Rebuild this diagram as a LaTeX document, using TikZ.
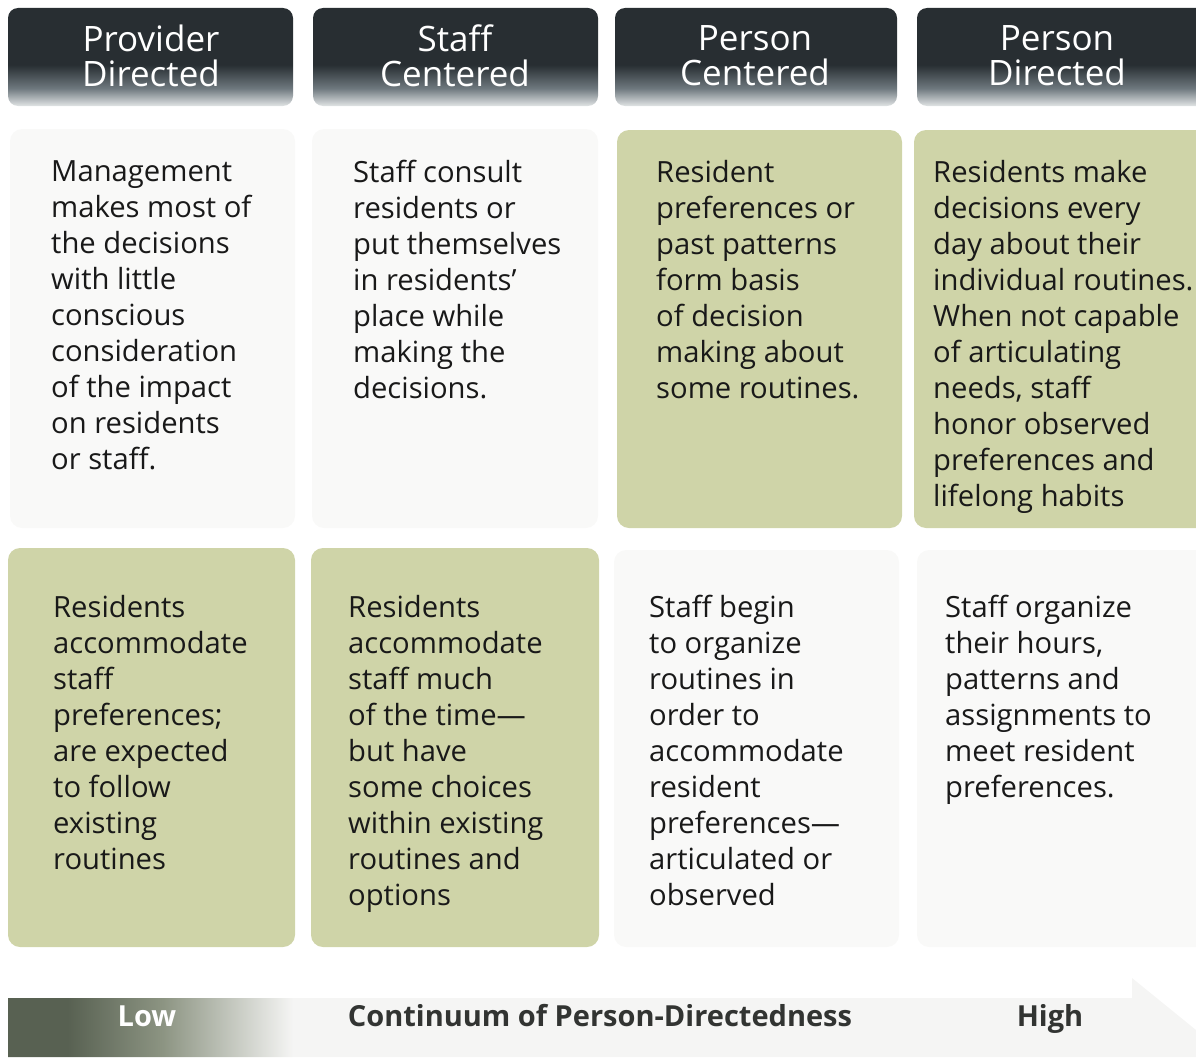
\documentclass[tikz,border=0pt]{standalone}
\usepackage{fontspec}
\setmainfont{Open Sans}
\begin{document}
\definecolor{cellgreen}{RGB}{207,212,168}
\definecolor{cellwhite}{RGB}{249,249,248}
\definecolor{hdrdark}{RGB}{40,46,50}
\definecolor{hdrmid}{RGB}{110,120,126}
\definecolor{hdrlight}{RGB}{225,228,229}
\definecolor{bardark}{RGB}{88,97,82}
\definecolor{barmid}{RGB}{140,148,130}
\definecolor{barlight}{RGB}{245,245,244}
\definecolor{txtdark}{RGB}{25,25,25}
\definecolor{bartxt}{RGB}{50,52,50}
\pgfdeclareverticalshading{hdrshade}{100bp}{color(0bp)=(hdrlight); color(25bp)=(hdrlight); color(34bp)=(hdrmid); color(46bp)=(hdrdark); color(75bp)=(hdrdark); color(100bp)=(hdrdark)}
\pgfdeclarehorizontalshading{barshade}{100bp}{color(0bp)=(bardark); color(25bp)=(bardark); color(27.5bp)=(bardark); color(31.5bp)=(barmid); color(37bp)=(barlight); color(75bp)=(barlight); color(100bp)=(barlight)}
\begin{tikzpicture}[x=1pt,y=-1pt,
  hdr/.style={rounded corners=10pt, shading=hdrshade, draw=none},
  hdrtxt/.style={text=white, align=center, inner sep=0pt, anchor=north,
    font=\fontsize{35}{35}\selectfont, execute at begin node=\strut},
  cellg/.style={rounded corners=12pt, fill=cellgreen, draw=none},
  cellw/.style={rounded corners=12pt, fill=cellwhite, draw=none},
  txt/.style={text=txtdark, align=left, inner sep=0pt, anchor=north west,
    font=\fontsize{29.2}{36}\selectfont, execute at begin node=\strut},
  bartext/.style={inner sep=0pt, anchor=base, font=\fontsize{29}{35}\selectfont\bfseries}]
\useasboundingbox (0,0) rectangle (1196,1057);
% headers
\path[hdr] (8,8) rectangle (293,106);
\path[hdr] (313,8) rectangle (598,106);
\path[hdr] (615,8) rectangle (897,106);
\path[hdr] (917,8) rectangle (1210,106);
\node[hdrtxt] (h1) at (151,25) {Provider\\Directed};
\node[hdrtxt] (h2) at (455,25) {Staff\\Centered};
\node[hdrtxt] (h3) at (755,25) {Person\\Centered};
\node[hdrtxt] (h4) at (1057,25) {Person\\Directed};
% row 1
\path[cellw] (10,129) rectangle (295,528);
\path[cellw] (312,129) rectangle (598,528);
\path[cellg] (617,130) rectangle (902,528);
\path[cellg] (914,130) rectangle (1210,528);
% row 2
\path[cellg] (8,548) rectangle (295,947);
\path[cellg] (311,548) rectangle (599,947);
\path[cellw] (614,550) rectangle (899,947);
\path[cellw] (917,550) rectangle (1210,947);
% texts row 1
\node[txt] (t11) at (51,160) {Management\\makes most of\\the decisions\\with little\\conscious\\consideration\\of the impact\\on residents\\or staff.};
\node[txt] (t12) at (353,160) {Staff consult\\residents or\\put themselves\\in residents’\\place while\\making the\\decisions.};
\node[txt] (t13) at (656,160) {Resident\\preferences or\\past patterns\\form basis\\of decision\\making about\\some routines.};
\node[txt] (t14) at (933,160) {Residents make\\decisions every\\day about their\\individual routines.\\When not capable\\of articulating\\needs, staff\\honor observed\\preferences and\\lifelong habits};
% texts row 2
\node[txt] (t21) at (53,595) {Residents\\accommodate\\staff\\preferences;\\are expected\\to follow\\existing\\routines};
\node[txt] (t22) at (348,595) {Residents\\accommodate\\staff much\\of the time—\\but have\\some choices\\within existing\\routines and\\options};
\node[txt] (t23) at (649,595) {Staff begin\\to organize\\routines in\\order to\\accommodate\\resident\\preferences—\\articulated or\\observed};
\node[txt] (t24) at (945,595) {Staff organize\\their hours,\\patterns and\\assignments to\\meet resident\\preferences.};
% continuum arrow
\path[shading=barshade] (8,998) -- (1132,998) -- (1132,978) -- (1196,1030) -- (1196,1057) -- (8,1057) -- cycle;
\node[bartext, text=white] (low) at (147,1026) {Low};
\node[bartext, text=bartxt] (cont) at (600,1026) {Continuum of Person-Directedness};
\node[bartext, text=bartxt] (high) at (1050,1026) {High};
\end{tikzpicture}
\end{document}
